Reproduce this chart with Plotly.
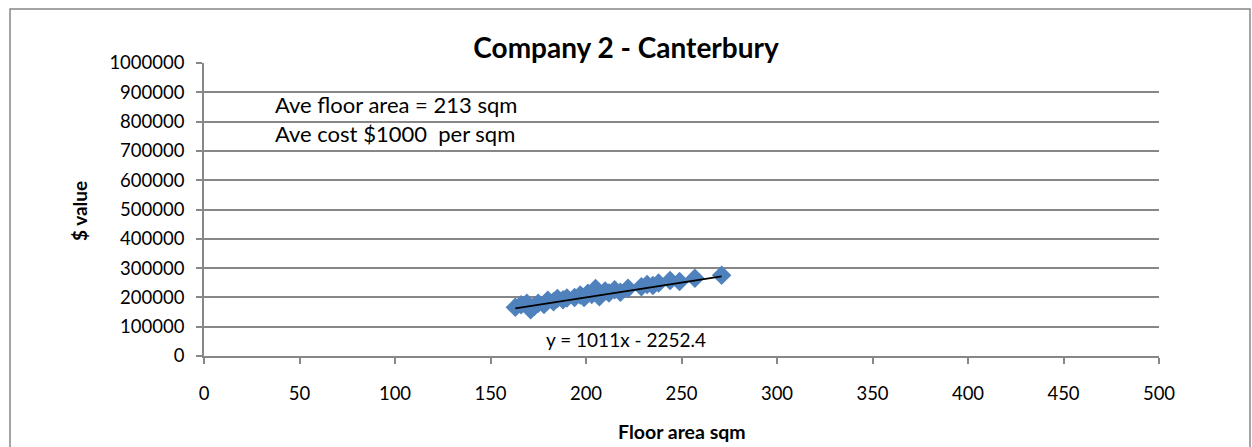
import plotly.graph_objects as go

floor_area = [163, 166, 169, 171, 173, 175, 178, 180, 183, 185, 188, 190, 194, 197, 199, 201,
              203, 205, 207, 210, 212, 215, 218, 222, 229, 232, 235, 238, 244, 249, 257, 271]
value = [166000, 175000, 180000, 158000, 170000, 180000, 176000, 190000, 185000, 196000, 192000, 198000,
         200000, 208000, 200000, 214000, 210000, 230000, 202000, 222000, 215000, 226000, 218000, 231000,
         236000, 244000, 241000, 249000, 258000, 254000, 265000, 276000]
slope = 1011
intercept = -2252.4
x_ticks = [0, 50, 100, 150, 200, 250, 300, 350, 400, 450, 500]
y_ticks = [0, 100000, 200000, 300000, 400000, 500000, 600000, 700000, 800000, 900000, 1000000]

font = "Lato"
blue = "#4F81BD"
grid = "#878787"

trend_x = [min(floor_area), max(floor_area)]
trend_y = [slope * v + intercept for v in trend_x]

W, H = 1252, 447
ML, MR, MT, MB = 204, 93, 63, 91
pw = W - ML - MR
ph = H - MT - MB


def px(xp):
    return (xp - ML) / pw


def py(yp):
    return (H - MB - yp) / ph


fig = go.Figure()
fig.add_trace(go.Scatter(x=floor_area, y=value, mode="markers",
                         marker=dict(symbol="diamond", size=15, color=blue,
                                     line=dict(width=0)), showlegend=False))
fig.add_trace(go.Scatter(x=trend_x, y=trend_y, mode="lines",
                         line=dict(color="black", width=1.6), showlegend=False))

fig.update_layout(
    width=W, height=H,
    margin=dict(l=ML, r=MR, t=MT, b=MB, autoexpand=False),
    paper_bgcolor="white", plot_bgcolor="white",
    font=dict(family=font, size=18.5, color="black"),
    title=dict(text="<b>Company 2 - Canterbury</b>", x=0.5, xanchor="center",
               xref="container", yref="container", y=1.0 - 48 / H, yanchor="middle",
               font=dict(family=font, size=28, color="black")),
    xaxis=dict(range=[0, 500], tickvals=x_ticks, ticktext=[str(v) for v in x_ticks],
               showgrid=False, zeroline=False, showline=True, linecolor=grid, linewidth=1.6,
               ticks="outside", ticklen=6, tickcolor=grid, tickwidth=1.6,
               ticklabelstandoff=14, automargin=False),
    yaxis=dict(range=[0, 1000000], tickvals=y_ticks, ticktext=[str(v) for v in y_ticks],
               showgrid=True, gridcolor=grid, gridwidth=1.6, zeroline=False,
               showline=True, linecolor=grid, linewidth=1.6,
               ticks="outside", ticklen=6, tickcolor=grid, tickwidth=1.6,
               ticklabelstandoff=8, automargin=False),
)

fig.add_annotation(x=px(682), y=py(432), xref="paper", yref="paper", text="<b>Floor area sqm</b>",
                   showarrow=False, xanchor="center", yanchor="middle", font=dict(family=font, size=19.5))
fig.add_annotation(x=px(79), y=py(211), xref="paper", yref="paper", text="<b>$ value</b>", textangle=-90,
                   showarrow=False, xanchor="center", yanchor="middle", font=dict(family=font, size=19))
fig.add_annotation(x=36, y=860000, xref="x", yref="y", text="Ave floor area = 213 sqm",
                   showarrow=False, xanchor="left", yanchor="middle", font=dict(family=font, size=22))
fig.add_annotation(x=36, y=761000, xref="x", yref="y", text="Ave cost $1000  per sqm",
                   showarrow=False, xanchor="left", yanchor="middle", font=dict(family=font, size=22))
fig.add_annotation(x=221, y=55000, xref="x", yref="y", text="y = 1011x - 2252.4",
                   showarrow=False, xanchor="center", yanchor="middle", font=dict(family=font, size=19))

fig.add_shape(type="rect", xref="paper", yref="paper",
              x0=px(10), x1=px(1250), y0=py(452), y1=py(9),
              line=dict(color="#868686", width=1.5), fillcolor="rgba(0,0,0,0)", layer="below")

fig.write_html("out.html")
